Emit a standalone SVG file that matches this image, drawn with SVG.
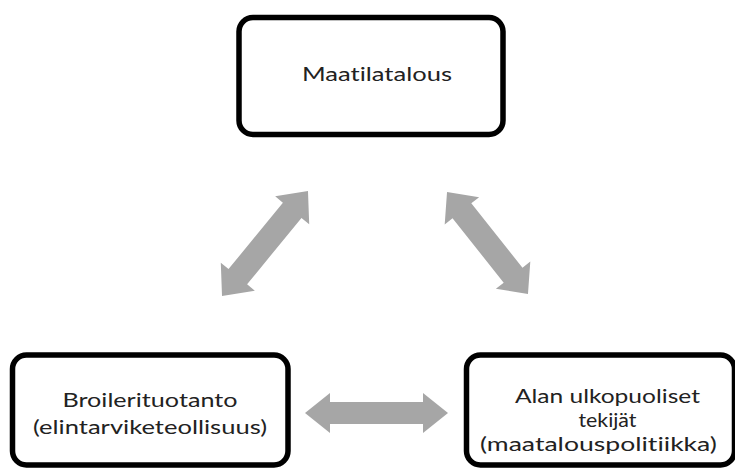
<svg xmlns="http://www.w3.org/2000/svg" width="735" height="468" viewBox="0 0 735 468">
<defs>
<style>
.box{fill:#fff;stroke:#000;stroke-width:5.5}
.lbl{font-family:Lato,"Open Sans","Liberation Sans",sans-serif;font-size:20px;fill:#222;text-anchor:middle;font-variant-ligatures:none}
.arr{fill:#a6a6a6}
</style>
</defs>
<rect width="735" height="468" fill="#fff"/>
<g id="connectors" class="arr">
<path transform="translate(265,243.5) rotate(-50.7) scale(0.998,1)" d="M-68,0 L-43,-22 L-43,-12 L43,-12 L43,-22 L68,0 L43,22 L43,12 L-43,12 L-43,22 Z"/>
<path transform="translate(487.5,243) rotate(51.5) scale(0.956,1)" d="M-68,0 L-43,-22 L-43,-12 L43,-12 L43,-22 L68,0 L43,22 L43,12 L-43,12 L-43,22 Z"/>
<path transform="translate(376.5,413)" d="M-71.5,0 L-46.5,-20 L-46.5,-11 L46.5,-11 L46.5,-20 L71.5,0 L46.5,20 L46.5,11 L-46.5,11 L-46.5,20 Z"/>
</g>
<g id="maatilatalous">
<rect class="box" x="239" y="17.5" width="264" height="117" rx="14"/>
<text class="lbl" transform="scale(1.17,1)" x="322.2" y="81" textLength="128.2" lengthAdjust="spacingAndGlyphs">Maatilatalous</text>
</g>
<g id="broilerituotanto">
<rect class="box" x="12.5" y="355" width="275.5" height="110" rx="14"/>
<text class="lbl" transform="scale(1.17,1)" x="128.2" y="407" textLength="149.6" lengthAdjust="spacingAndGlyphs">Broilerituotanto</text>
<text class="lbl" transform="scale(1.17,1)" x="128.2" y="434" textLength="200" lengthAdjust="spacingAndGlyphs">(elintarviketeollisuus)</text>
</g>
<g id="ulkopuoliset">
<rect class="box" x="466.5" y="355" width="268" height="110" rx="14"/>
<text class="lbl" transform="scale(1.17,1)" x="519.2" y="403" textLength="158.1" lengthAdjust="spacingAndGlyphs">Alan ulkopuoliset</text>
<text class="lbl" transform="scale(1.17,1)" x="519.2" y="427" textLength="49.6" lengthAdjust="spacingAndGlyphs">tekijät</text>
<text class="lbl" transform="scale(1.17,1)" x="511.5" y="451" textLength="202.6" lengthAdjust="spacingAndGlyphs">(maatalouspolitiikka)</text>
</g>
</svg>
